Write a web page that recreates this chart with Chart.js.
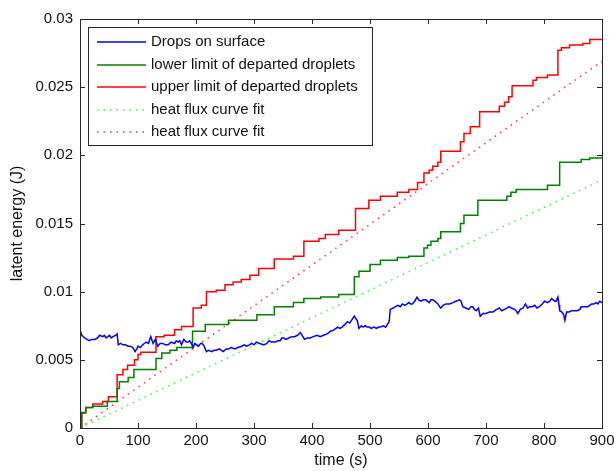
<!DOCTYPE html>
<html>
<head>
<meta charset="utf-8">
<script src="https://cdn.jsdelivr.net/npm/chart.js@4/dist/chart.umd.min.js"></script>
<style>
body { margin: 0; background: #fff; }
</style>
</head>
<body>
<canvas id="grafico" width="615" height="471"></canvas>
<script>
etiquetas = ["Drops on surface", "lower limit of departed droplets", "upper limit of departed droplets",
			 "heat flux curve fit", "heat flux curve fit"]
colores = ["#0000ff", "#008000", "#ff0000", "#33ff33", "#ff3333"]
yEtiquetas = ["0", "0.005", "0.01", "0.015", "0.02", "0.025", "0.03"]

// drops on surface
tAzul = [0,3,8,12,16,20,25,30,34,39,42,45,48,51,54,57,61,64,66,70,74,78,83,87,91,95,98,100,104,108,111,114,118,122,126,130,134,138,143,147,152,157,163,166,169,172,175,179,183,186,189,192,195,198,201,204,208,211,214,218,222,227,231,235,240,247,252,256,261,267,272,279,283,287,292,296,300,304,310,317,322,326,330,337,341,345,348,351,355,360,365,370,375,380,383,387,392,397,402,409,414,420,426,432,438,444,448,452,457,461,465,468,473,476,478,481,485,488,492,495,499,502,507,511,515,518,523,527,530,533,535,540,544,548,552,556,560,564,567,570,573,577,581,584,588,592,596,599,602,605,608,612,617,620,622,626,631,637,643,648,654,657,660,665,670,674,677,680,683,687,690,695,700,706,712,718,723,727,732,736,740,744,749,752,755,759,764,768,772,775,780,784,788,792,797,801,806,810,813,816,819,821,824,826,827,831,834,836,839,843,847,852,857,862,864,870,876,882,886,890,893,896,900]
eAzul = [.0072,.0068,.0066,.0065,.0064,.0065,.0065,.0066,.0068,.0067,.0068,.0066,.0067,.0068,.0066,.0067,.0068,.0069,.0061,.0062,.0061,.0061,.0060,.0060,.0059,.0056,.0058,.0060,.0059,.0061,.0062,.0063,.0062,.0067,.0062,.0065,.0060,.0062,.0062,.0061,.0061,.0063,.0062,.0064,.0063,.0064,.0061,.0065,.0063,.0063,.0064,.0062,.0059,.0062,.0061,.0060,.0062,.0062,.0060,.0056,.0057,.0056,.0057,.0057,.0058,.0056,.0058,.0058,.0059,.0058,.0059,.0060,.0061,.0060,.0061,.0062,.0061,.0063,.0062,.0061,.0062,.0064,.0063,.0063,.0064,.0064,.0066,.0066,.0065,.0066,.0067,.0067,.0068,.0070,.0068,.0065,.0066,.0066,.0067,.0068,.0067,.0068,.0069,.0071,.0072,.0074,.0073,.0074,.0076,.0078,.0077,.0079,.0082,.0080,.0079,.0073,.0075,.0074,.0075,.0074,.0074,.0073,.0074,.0073,.0074,.0074,.0075,.0074,.0076,.0078,.0087,.0088,.0089,.0090,.0089,.0091,.0090,.0091,.0092,.0091,.0091,.0093,.0096,.0094,.0093,.0094,.0094,.0093,.0092,.0094,.0094,.0093,.0091,.0089,.0088,.0090,.0091,.0091,.0092,.0093,.0094,.0093,.0089,.0088,.0087,.0089,.0089,.0087,.0086,.0088,.0082,.0084,.0084,.0085,.0085,.0087,.0088,.0086,.0087,.0088,.0089,.0088,.0087,.0086,.0084,.0087,.0088,.0091,.0088,.0089,.0089,.0090,.0088,.0089,.0091,.0093,.0092,.0093,.0095,.0094,.0093,.0093,.0096,.0090,.0086,.0085,.0083,.0079,.0085,.0085,.0086,.0086,.0086,.0087,.0089,.0089,.0089,.0091,.0091,.0092,.0091,.0093,.0092]

// lower limit (steps)
tVerde = [0,3,10,22,47,64,68,83,93,131,141,155,167,194,216,256,305,335,368,386,415,446,473,481,500,518,547,567,593,599,605,617,622,656,662,686,736,743,752,806,827,864,879,900]
eVerde = [0,.0011,.0015,.0016,.00195,.0029,.0034,.0037,.0043,.0051,.0055,.0057,.0059,.0071,.0076,.0079,.0083,.0089,.0092,.0095,.0096,.0098,.0111,.0115,.0120,.0123,.0125,.0126,.0132,.0134,.0137,.0139,.0144,.0150,.0156,.0167,.0170,.0173,.0175,.0178,.0195,.0197,.0198,.0198]

// upper limit (steps)
tRojo = [0,3,10,22,39,49,64,74,82,94,100,105,131,145,163,175,195,209,218,235,250,264,278,293,308,335,368,386,412,423,446,475,498,518,547,567,582,593,602,608,617,622,656,662,673,689,723,732,739,745,781,787,806,824,830,844,867,879,900]
eRojo = [0,.00114,.0015,.00176,.00195,.0023,.0039,.0043,.0046,.0050,.0054,.00555,.0067,.0068,.0072,.00745,.0088,.0090,.0100,.0101,.0105,.0107,.0109,.0112,.0117,.0124,.0126,.0137,.0139,.0142,.0145,.0161,.0167,.0170,.0173,.0175,.0180,.0187,.0189,.0192,.0195,.0203,.0210,.0216,.0221,.0232,.0236,.0239,.0243,.0251,.0255,.0257,.0259,.0277,.0279,.0281,.0282,.0285,.0285]

// curve fits
tAjuste = [0, 900]
eAjusteVerde = [0, .0182]
eAjusteRojo = [0, .0269]

fuente = "'Liberation Sans', Arial, sans-serif"

function puntos(t, e)
{
	return t.map(function (v, i) { return {x: v, y: e[i]}; });
}

function serie(i, t, e, escalon, punteado)
{
	return {
		label: etiquetas[i],
		data: puntos(t, e),
		borderColor: colores[i],
		borderWidth: 1.5,
		borderDash: punteado ? [1.5, 5] : [],
		stepped: escalon ? 'before' : false,
		pointRadius: 0,
		fill: false,
		tension: 0
	};
}

var marco = {
	id: 'marco',
	afterDatasetsDraw: function (chart) {
		var ctx = chart.ctx, a = chart.chartArea, x = chart.scales.x, y = chart.scales.y;
		ctx.save();
		ctx.strokeStyle = '#262626';
		ctx.lineWidth = 1;
		ctx.strokeRect(Math.round(a.left) + 0.5, Math.round(a.top) + 0.5,
			Math.round(a.right - a.left), Math.round(a.bottom - a.top));
		ctx.beginPath();
		x.ticks.forEach(function (tk) {
			var px = Math.round(x.getPixelForValue(tk.value)) + 0.5;
			ctx.moveTo(px, a.bottom); ctx.lineTo(px, a.bottom - 5);
			ctx.moveTo(px, a.top); ctx.lineTo(px, a.top + 5);
		});
		y.ticks.forEach(function (tk) {
			var py = Math.round(y.getPixelForValue(tk.value)) + 0.5;
			ctx.moveTo(a.left, py); ctx.lineTo(a.left + 5, py);
			ctx.moveTo(a.right, py); ctx.lineTo(a.right - 5, py);
		});
		ctx.stroke();

		// legend box
		var lx = a.left + 8, ly = a.top + 8, lw = 284, lh = 118;
		ctx.fillStyle = '#fff';
		ctx.fillRect(lx + 0.5, ly + 0.5, lw, lh);
		ctx.strokeRect(lx + 0.5, ly + 0.5, lw, lh);
		ctx.font = '15px ' + fuente;
		ctx.textBaseline = 'middle';
		ctx.textAlign = 'left';
		for (var i = 0; i < etiquetas.length; i++) {
			var fy = Math.round(ly + 15 + i * 22.5);
			ctx.save();
			ctx.beginPath();
			ctx.strokeStyle = colores[i];
			ctx.lineWidth = 1.5;
			ctx.setLineDash(i > 2 ? [1.5, 5] : []);
			ctx.moveTo(lx + 9, fy);
			ctx.lineTo(lx + 58, fy);
			ctx.stroke();
			ctx.restore();
			ctx.fillStyle = '#111';
			ctx.fillText(etiquetas[i], lx + 63, fy);
		}
		ctx.restore();
	}
};

new Chart(document.getElementById('grafico').getContext('2d'), {
	type: 'line',
	data: {
		datasets: [
			serie(0, tAzul, eAzul, false, false),
			serie(1, tVerde, eVerde, true, false),
			serie(2, tRojo, eRojo, true, false),
			serie(3, tAjuste, eAjusteVerde, false, true),
			serie(4, tAjuste, eAjusteRojo, false, true)
		]
	},
	options: {
		responsive: false,
		animation: false,
		layout: {
			padding: {left: 0, right: 13, top: 19, bottom: 0}
		},
		plugins: {
			legend: {display: false},
			tooltip: {enabled: false}
		},
		scales: {
			x: {
				type: 'linear',
				min: 0,
				max: 900,
				afterFit: function (s) { s.height = 43; s.paddingLeft = 0; s.paddingRight = 0; },
				grid: {display: false, drawTicks: false},
				border: {display: false},
				ticks: {stepSize: 100, padding: 4, maxRotation: 0, color: '#111', font: {family: fuente, size: 15}},
				title: {display: true, text: 'time (s)', color: '#111', padding: {top: 0, bottom: 1}, font: {family: fuente, size: 16}}
			},
			y: {
				type: 'linear',
				min: 0,
				max: 0.03,
				afterFit: function (s) { s.width = 80; s.paddingTop = 0; s.paddingBottom = 0; },
				grid: {display: false, drawTicks: false},
				border: {display: false},
				ticks: {
					stepSize: 0.005,
					padding: 7,
					color: '#111',
					font: {family: fuente, size: 15},
					callback: function (v) { return yEtiquetas[Math.round(v / 0.005)]; }
				},
				title: {display: true, text: 'latent energy (J)', color: '#111', padding: {top: 8, bottom: 0}, font: {family: fuente, size: 16}}
			}
		}
	},
	plugins: [marco]
});
</script>
</body>
</html>
